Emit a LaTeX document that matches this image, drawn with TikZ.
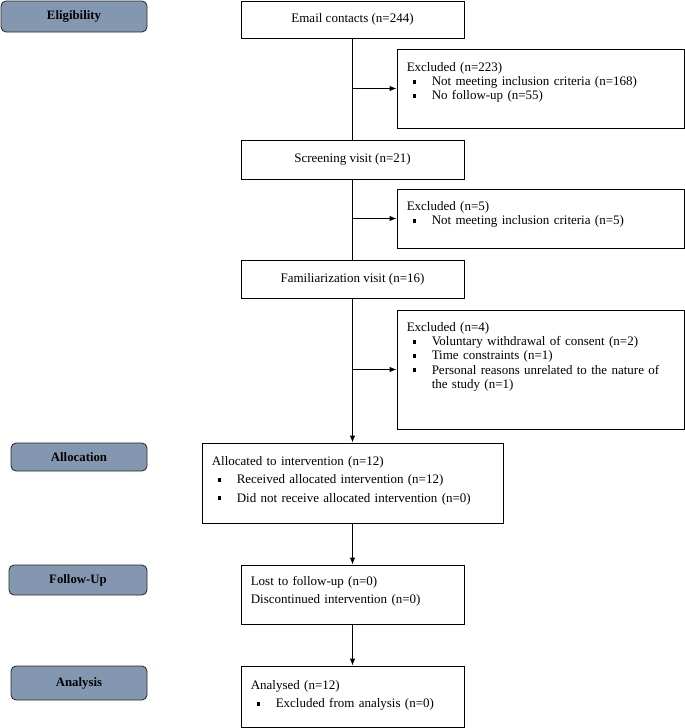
\documentclass[tikz,border=0pt]{standalone}
\usepackage{fontspec}
\setmainfont{Liberation Serif}
\usetikzlibrary{arrows.meta}
\definecolor{stagefill}{HTML}{8497B0}
\newcommand{\bsq}{\rule[2pt]{3.6pt}{3.8pt}}
\newcommand{\bl}{\makebox[25pt][l]{\hspace{6pt}\bsq}}
\begin{document}
\begin{tikzpicture}[x=1pt,y=-1pt,
  box/.style={draw, line width=0.9pt, inner sep=0pt, font=\fontsize{13}{14}\selectfont},
  stagebox/.style={draw=black!85, fill=stagefill, rounded corners=5pt, line width=0.8pt, inner sep=0pt, font=\bfseries\fontsize{12.8}{13}\selectfont},
  txt/.style={anchor=base west, inner sep=0pt, align=left, text width=275pt},
  tight/.style={font=\fontsize{13}{14.2}\selectfont},
  loose/.style={font=\fontsize{13}{18.3}\selectfont},
  arr/.style={line width=0.9pt, -{Latex[length=7pt,width=5.5pt]}},
  ln/.style={line width=0.9pt}]
\useasboundingbox (0,0) rectangle (685,728);
% stage labels
\node[stagebox, minimum width=146pt, minimum height=31pt] (elig) at (74,16.5) {Eligibility};
\node[stagebox, minimum width=136pt, minimum height=28pt] (alloc) at (79,457) {Allocation};
\node[stagebox, minimum width=138pt, minimum height=30pt] (fu) at (78,580) {Follow-Up};
\node[stagebox, minimum width=136pt, minimum height=34pt] (anal) at (79,683) {Analysis};
% main boxes
\node[box, minimum width=223pt, minimum height=37pt] (email) at (352.5,19.5) {Email contacts (n=244)};
\node[box, minimum width=287pt, minimum height=79pt] (ex1) at (540.5,88.5) {};
\node[box, minimum width=223pt, minimum height=39pt] (scr) at (352.5,159.5) {Screening visit (n=21)};
\node[box, minimum width=287pt, minimum height=59pt] (ex2) at (540.5,218.5) {};
\node[box, minimum width=223pt, minimum height=38pt] (fam) at (352.5,279) {Familiarization visit (n=16)};
\node[box, minimum width=287pt, minimum height=119pt] (ex3) at (540.5,369.5) {};
\node[box, minimum width=301pt, minimum height=80pt] (allocb) at (352.5,483) {};
\node[box, minimum width=223pt, minimum height=59pt] (fub) at (352.5,594.5) {};
\node[box, minimum width=223pt, minimum height=61pt] (anb) at (352.5,696.5) {};
% box texts
\node[txt, tight] (t1) at ([shift={(10pt,-23pt)}]ex1.north west) {Excluded (n=223)\\\bl Not meeting inclusion criteria (n=168)\\\bl No follow-up (n=55)};
\node[txt, tight] (t2) at ([shift={(10pt,-22pt)}]ex2.north west) {Excluded (n=5)\\\bl Not meeting inclusion criteria (n=5)};
\node[txt, tight] (t3) at ([shift={(10pt,-22pt)}]ex3.north west) {Excluded (n=4)\\\bl Voluntary withdrawal of consent (n=2)\\\bl Time constraints (n=1)\\\bl Personal reasons unrelated to the nature of\\\hspace*{25pt}the study (n=1)};
\node[txt, loose] (t4) at ([shift={(10pt,-23pt)}]allocb.north west) {Allocated to intervention (n=12)\\\bl Received allocated intervention (n=12)\\\bl Did not receive allocated intervention (n=0)};
\node[txt, loose] (t5) at ([shift={(10pt,-21pt)}]fub.north west) {Lost to follow-up (n=0)\\Discontinued intervention (n=0)};
\node[txt, loose] (t6) at ([shift={(10pt,-24pt)}]anb.north west) {Analysed (n=12)\\\bl Excluded from analysis (n=0)};
% connectors
\draw[ln] (email) -- (scr);
\draw[arr] (email.south |- ex1.west) -- (ex1.west);
\draw[ln] (scr) -- (fam);
\draw[arr] (scr.south |- ex2.west) -- (ex2.west);
\draw[arr] (fam) -- (allocb);
\draw[arr] (fam.south |- ex3.west) -- (ex3.west);
\draw[arr] (allocb) -- (fub);
\draw[arr] (fub) -- (anb);
\end{tikzpicture}
\end{document}
